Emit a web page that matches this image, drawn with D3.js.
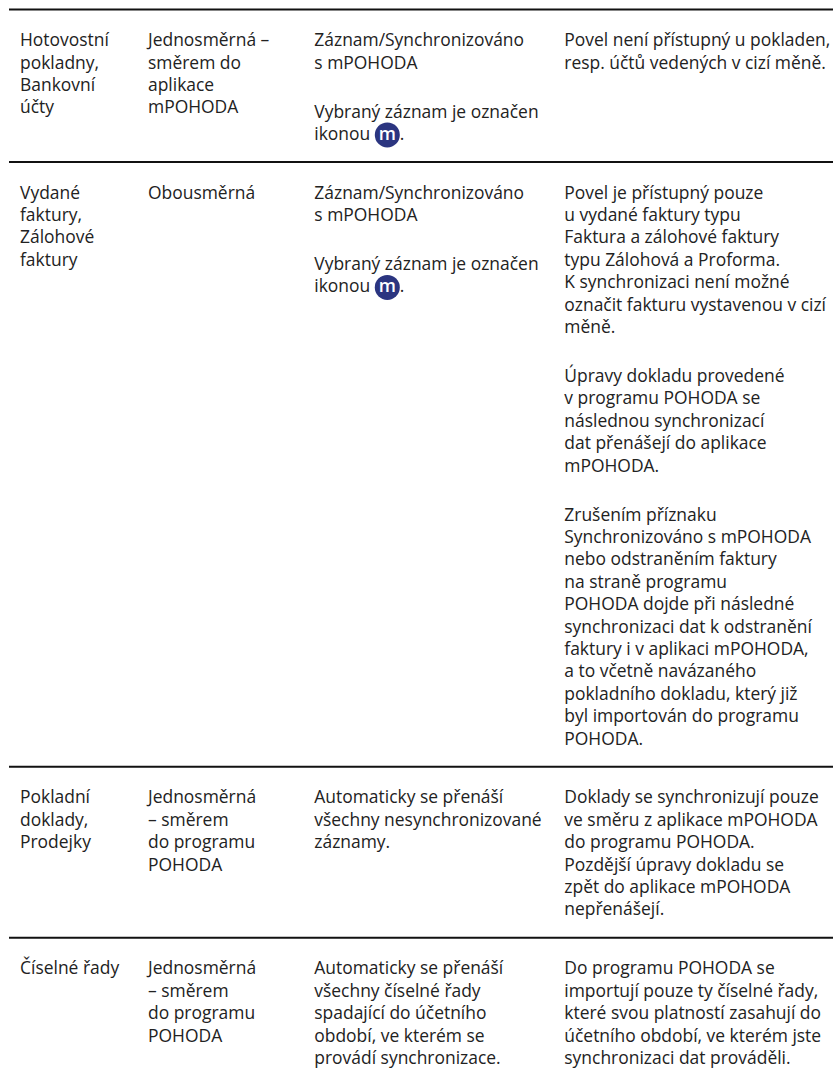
<!DOCTYPE html>
<html>
<head>
<meta charset="utf-8">
<title>Synchronizace mPOHODA</title>
<script src="https://cdn.jsdelivr.net/npm/d3@7"></script>
<style>
  html, body { margin: 0; background: #fff; }
  text { font-family: "Open Sans", sans-serif; font-size: 17.45px; fill: #222; }
</style>
</head>
<body>
<div id="chart"></div>
<script>
// one entry per table row, each cell is a list of paragraphs, each paragraph a list of lines
const col1 = [
  [["Hotovostní", "pokladny,", "Bankovní", "účty"]],
  [["Vydané", "faktury,", "Zálohové", "faktury"]],
  [["Pokladní", "doklady,", "Prodejky"]],
  [["Číselné řady"]]
];
const col2 = [
  [["Jednosměrná –", "směrem do", "aplikace", "mPOHODA"]],
  [["Obousměrná"]],
  [["Jednosměrná", "– směrem", "do programu", "POHODA"]],
  [["Jednosměrná", "– směrem", "do programu", "POHODA"]]
];
const col3 = [
  [["Záznam/Synchronizováno", "s mPOHODA"], ["Vybraný záznam je označen", "ikonou @."]],
  [["Záznam/Synchronizováno", "s mPOHODA"], ["Vybraný záznam je označen", "ikonou @."]],
  [["Automaticky se přenáší", "všechny nesynchronizované", "záznamy."]],
  [["Automaticky se přenáší", "všechny číselné řady", "spadající do účetního", "období, ve kterém se", "provádí synchronizace."]]
];
const col4 = [
  [["Povel není přístupný u pokladen,", "resp. účtů vedených v cizí měně."]],
  [["Povel je přístupný pouze", "u vydané faktury typu", "Faktura a zálohové faktury", "typu Zálohová a Proforma.", "K synchronizaci není možné", "označit fakturu vystavenou v cizí", "měně."],
   ["Úpravy dokladu provedené", "v programu POHODA se", "následnou synchronizací", "dat přenášejí do aplikace", "mPOHODA."],
   ["Zrušením příznaku", "Synchronizováno s mPOHODA", "nebo odstraněním faktury", "na straně programu", "POHODA dojde při následné", "synchronizaci dat k odstranění", "faktury i v aplikaci mPOHODA,", "a to včetně navázaného", "pokladního dokladu, který již", "byl importován do programu", "POHODA."]],
  [["Doklady se synchronizují pouze", "ve směru z aplikace mPOHODA", "do programu POHODA.", "Pozdější úpravy dokladu se", "zpět do aplikace mPOHODA", "nepřenášejí."]],
  [["Do programu POHODA se", "importují pouze ty číselné řady,", "které svou platností zasahují do", "účetního období, ve kterém jste", "synchronizaci dat prováděli."]]
];
const columns = [col1, col2, col3, col4];
const colStarts = [20, 148, 314.3, 564.3];
const ruleYs = [9.5, 162, 766.7, 937.7];
const rows = [0, 1, 2, 3];

const width = 833, height = 1082;
const lineH = 22.4;
const parGap = 26.6;

const svg = d3.select("#chart").append("svg")
  .attr("width", width).attr("height", height)
  .style("display", "block");

const x = d3.scaleOrdinal().domain([0, 1, 2, 3]).range(colStarts);
const y = d3.scaleOrdinal().domain([0, 1, 2, 3]).range(ruleYs);

// horizontal rules
svg.selectAll("line.rule").data(d3.range(ruleYs.length)).enter().append("line")
  .attr("class", "rule")
  .attr("x1", 9).attr("x2", width)
  .attr("y1", d => y(d)).attr("y2", d => y(d))
  .attr("stroke", "#111").attr("stroke-width", 2);

// flatten paragraphs to positioned lines
const lines = [];
columns.forEach((col, c) => {
  rows.forEach(r => {
    let yy = y(r) + 36.6;
    col[r].forEach(par => {
      par.forEach(t => {
        lines.push({ c, y: yy, t });
        yy += lineH;
      });
      yy += parGap;
    });
  });
});

svg.selectAll("text.cell").data(lines).enter().append("text")
  .attr("class", "cell")
  .attr("x", d => x(d.c))
  .attr("y", d => d.y)
  .text(d => d.t.split(" @")[0]);

// the "m" badge sits inline after "ikonou"
const icons = lines.filter(d => d.t.includes("@"));
const g = svg.selectAll("g.icon").data(icons).enter().append("g")
  .attr("class", "icon")
  .attr("transform", d => `translate(${x(d.c) + 73},${d.y - 5})`);
g.append("circle").attr("r", 12.5).attr("fill", "#2b3580");
g.append("text").attr("text-anchor", "middle").attr("y", 5)
  .style("fill", "#fff").style("font-weight", 600).style("font-size", "18px").text("m");
svg.selectAll("text.dot").data(icons).enter().append("text")
  .attr("class", "dot")
  .attr("x", d => x(d.c) + 85.5)
  .attr("y", d => d.y)
  .text(".");
</script>
</body>
</html>
